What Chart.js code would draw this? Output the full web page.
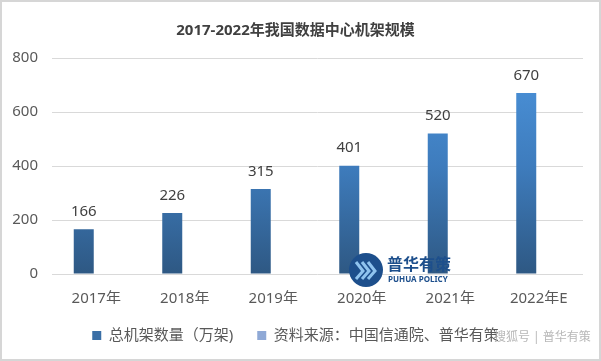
<!DOCTYPE html>
<html>
<head>
<meta charset="utf-8">
<script src="https://cdn.jsdelivr.net/npm/chart.js@4/dist/chart.umd.min.js"></script>
<style>
html,body{margin:0;padding:0;background:#fff;}
#wrap{position:relative;width:601px;height:361px;}
#frame{position:absolute;left:0;top:0;width:597px;height:357px;border:2px solid #d6d6d6;pointer-events:none;}
</style>
</head>
<body>
<div id="wrap"><canvas id="c" width="601" height="361"></canvas><div id="frame"></div></div>
<script>
const title = '2017-2022年我国数据中心机架规模';
const categories = ['2017年','2018年','2019年','2020年','2021年','2022年E'];
const rackValues = [166, 226, 315, 401, 520, 670];
const seriesName = '总机架数量（万架)';
const sourceName = '资料来源：中国信通院、普华有策';
const sourceValues = [null, null, null, null, null, null];
const yTicks = [0, 200, 400, 600, 800];

const FONT = "'Noto Sans', 'Noto Sans CJK SC', sans-serif";

function barGradient(ctx) {
  const chart = ctx.chart;
  const area = chart.chartArea;
  if (!area) return '#3f7fc0';
  const g = chart.ctx.createLinearGradient(0, area.top, 0, area.bottom);
  g.addColorStop(0, '#4c94dc');
  g.addColorStop(0.5, '#3e7cbd');
  g.addColorStop(1, '#2e5883');
  return g;
}

const valueLabels = {
  id: 'valueLabels',
  afterDatasetsDraw(chart) {
    const ctx = chart.ctx;
    const meta = chart.getDatasetMeta(0);
    ctx.save();
    ctx.font = '15px ' + FONT;
    ctx.fillStyle = '#404040';
    ctx.textAlign = 'center';
    ctx.textBaseline = 'bottom';
    meta.data.forEach((bar, i) => {
      ctx.fillText(String(rackValues[i]), bar.x, bar.y - 10);
    });
    ctx.restore();
  }
};

const decor = {
  id: 'decor',
  afterDraw(chart) {
    const ctx = chart.ctx;
    ctx.save();
    const cx = 366, cy = 270;
    ctx.beginPath();
    ctx.arc(cx, cy, 17, 0, Math.PI * 2);
    ctx.fillStyle = '#1d4f8c';
    ctx.fill();
    ctx.strokeStyle = '#8fc3ee';
    ctx.lineWidth = 3;
    for (let k = 0; k < 3; k++) {
      ctx.beginPath();
      ctx.moveTo(cx - 10 + k * 6, cy - 8);
      ctx.lineTo(cx - 3 + k * 6, cy + 1);
      ctx.lineTo(cx - 10 + k * 6, cy + 9);
      ctx.stroke();
    }
    ctx.fillStyle = '#1d4f8c';
    ctx.font = 'bold 16px ' + FONT;
    ctx.textAlign = 'left';
    ctx.textBaseline = 'middle';
    ctx.fillText('普华有策', 387, 265);
    ctx.font = 'bold 8px ' + FONT;
    ctx.fillText('PUHUA POLICY', 388, 280);
    ctx.font = '12px ' + FONT;
    ctx.fillStyle = 'rgba(170,170,170,0.85)';
    ctx.fillText('搜狐号 | 普华有策', 494, 338);
    ctx.restore();
  }
};

new Chart(document.getElementById('c'), {
  type: 'bar',
  data: {
    labels: categories,
    datasets: [
      { label: seriesName, data: rackValues, backgroundColor: barGradient, borderWidth: 0,
        categoryPercentage: 0.565, barPercentage: 0.8 },
      { label: sourceName, data: sourceValues, backgroundColor: '#8fa9d6', borderWidth: 0,
        categoryPercentage: 0.565, barPercentage: 0.8 }
    ]
  },
  options: {
    responsive: false,
    animation: false,
    devicePixelRatio: 1,
    layout: { padding: { left: 8, right: 18, top: 0, bottom: 8 } },
    plugins: {
      title: {
        display: true, text: title, color: '#404040',
        font: { family: FONT, size: 15, weight: 'bold' },
        padding: { top: 22, bottom: 18 }
      },
      legend: {
        position: 'bottom',
        labels: {
          color: '#595959', font: { family: FONT, size: 15 },
          boxWidth: 9, boxHeight: 9, padding: 24,
          generateLabels(chart) {
            return chart.data.datasets.map((ds, i) => ({
              text: ds.label,
              fillStyle: i === 0 ? '#3a6fa6' : '#8fa9d6',
              strokeStyle: 'transparent', lineWidth: 0,
              fontColor: '#595959', datasetIndex: i, hidden: false
            }));
          }
        },
        afterFit() {}
      },
      tooltip: { enabled: false }
    },
    scales: {
      x: {
        grid: { display: false },
        border: { display: false },
        ticks: { color: '#595959', font: { family: FONT, size: 15 }, padding: 8 },
        afterFit(axis) { axis.height = 30; }
      },
      y: {
        min: 0, max: 800,
        afterBuildTicks(axis) { axis.ticks = yTicks.map(v => ({ value: v })); },
        afterFit(axis) { axis.width = 44; },
        grid: { color: '#d9d9d9', drawTicks: false },
        border: { display: false },
        ticks: { color: '#595959', font: { family: FONT, size: 15 }, padding: 14 }
      }
    }
  },
  plugins: [valueLabels, decor]
});
</script>
</body>
</html>
